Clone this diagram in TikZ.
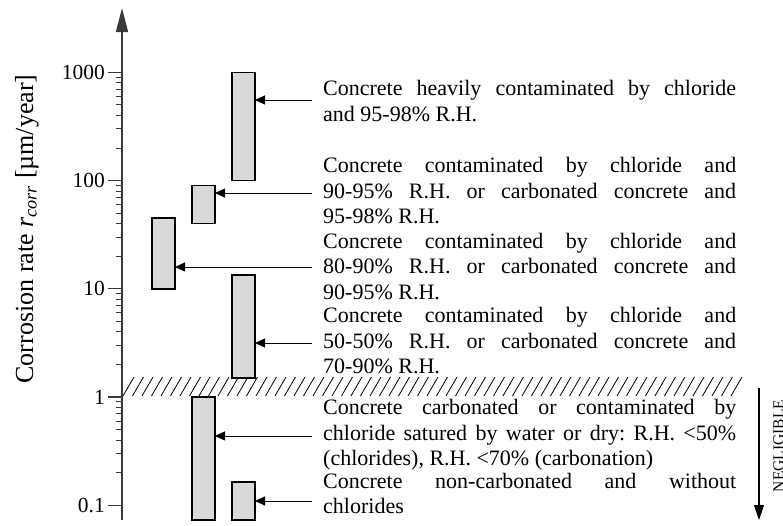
\documentclass[tikz,border=0pt]{standalone}
\usepackage{fontspec}
\setmainfont{Liberation Serif}
\usetikzlibrary{arrows.meta}
\definecolor{barfill}{HTML}{D9D9D9}
\definecolor{axisgray}{HTML}{3A3A3A}
\hyphenpenalty=10000
\exhyphenpenalty=10000
\newcommand\nosqueeze{\frenchspacing\spaceskip=5.5pt plus 40pt\relax}

\begin{document}
\begin{tikzpicture}[x=1pt,y=108.2pt,
  bar/.style={draw=black,fill=barfill,line width=1.6pt},
  note/.style={anchor=base west,text width=413pt,align=justify,inner xsep=11pt,inner ysep=0pt,
    font=\fontsize{22}{25.5}\selectfont,execute at begin node=\nosqueeze},
  ptr/.style={-{Triangle[length=10pt,width=9pt]},line width=0.9pt}]
\useasboundingbox (0,-1.1922) rectangle (783,3.6691);
% axis, ticks
\draw[axisgray,line width=1.5pt,-{Triangle[length=24pt,width=12pt]}] (122,-1.137)--(122,3.595);
\foreach \d/\lab in {-1/0.1,0/1,1/10,2/100,3/1000}{\draw[axisgray,line width=1.2pt] (108,\d)--(122,\d); \node[anchor=east,inner sep=0pt,font=\fontsize{21.5}{25}\selectfont] (tick\d) at (105,\d) {\lab};}
\foreach \d in {-1,...,2}{\foreach \m in {2,...,9}{\draw[axisgray,line width=1pt] (116,{\d+log10(\m)})--(122,{\d+log10(\m)});}}
\node[rotate=90,anchor=base,font=\fontsize{26}{28}\selectfont] (ylab) at (33,1.553) {Corrosion rate \textit{r}\textsubscript{\textit{corr}} [µm/year]};
% negligible band
\foreach \x in {123,132.5,...,734}{\draw[line width=0.8pt] (\x,0.01)--++(11,0.175);}
\draw[line width=1.2pt,-{Triangle[length=15pt,width=10pt]}] (759,0.083)--(759,-1.137);
\node[rotate=90,anchor=base,font=\fontsize{15.5}{16}\selectfont] (negl) at (783.5,-0.453) {NEGLIGIBLE};
% bars
\draw[bar] (232,2) rectangle (255,3); \coordinate (a1) at (255,2.745);
\draw[bar] (192,1.602) rectangle (215,1.954); \coordinate (a2) at (215,1.885);
\draw[bar] (152,1) rectangle (175,1.653); \coordinate (a3) at (175,1.2015);
\draw[bar] (232,0.176) rectangle (255,1.13); \coordinate (a4) at (255,0.499);
\draw[bar] (192,0) rectangle (215,-1.137); \coordinate (a5) at (215,-0.36);
\draw[bar] (232,-0.786) rectangle (255,-1.137); \coordinate (a6) at (255,-0.961);
% notes
\node[note] (n1) at (312,2.782) {Concrete heavily contaminated by chloride and 95-98\% R.H.};
\node[note] (n2) at (312,2.073) {Concrete contaminated by chloride and 90-95\% R.H. or carbonated concrete and 95-98\% R.H.};
\node[note] (n3) at (312,1.377) {Concrete contaminated by chloride and 80-90\% R.H. or carbonated concrete and 90-95\% R.H.};
\node[note] (n4) at (312,0.687) {Concrete contaminated by chloride and 50-50\% R.H. or carbonated concrete and 70-90\% R.H.};
\node[note] (n5) at (312,-0.166) {Concrete carbonated or contaminated by chloride satured by water or dry: R.H. <50\% (chlorides), R.H. <70\% (carbonation)};
\node[note] (n6) at (312,-0.841) {Concrete non-carbonated and without chlorides};
\foreach \i in {1,...,6}{\draw[ptr] (n\i.west |- a\i)--(a\i);}
\end{tikzpicture}
\end{document}
